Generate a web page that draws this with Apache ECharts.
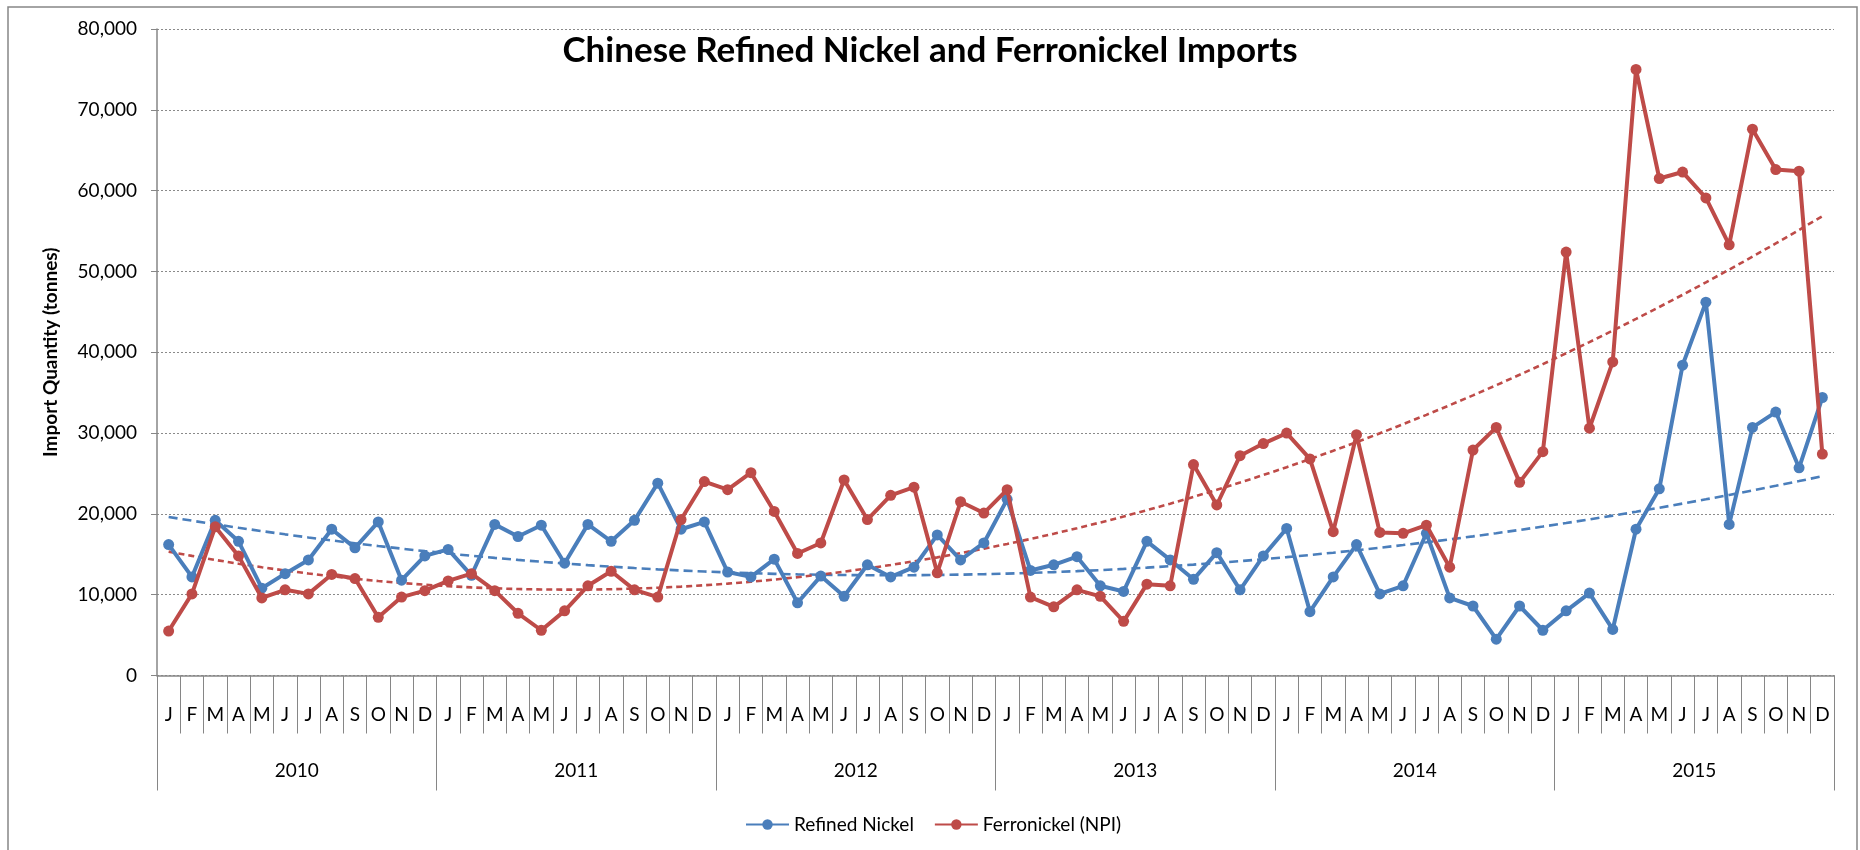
<!DOCTYPE html>
<html>
<head>
<meta charset="utf-8">
<script src="https://cdn.jsdelivr.net/npm/echarts@6/dist/echarts.min.js"></script>
<style>
html,body{margin:0;padding:0;background:#fff;}
#chart{width:1860px;height:850px;}
</style>
</head>
<body>
<div id="chart"></div>
<script>
// ---- data ----
const monthLetters = ['J','F','M','A','M','J','J','A','S','O','N','D'];
const years = ['2010','2011','2012','2013','2014','2015'];
const yTicks = [0, 10000, 20000, 30000, 40000, 50000, 60000, 70000, 80000];

const refinedNickel = [
  16200, 12200, 19200, 16600, 10800, 12600, 14300, 18100, 15800, 19000, 11800, 14800,
  15600, 12400, 18700, 17200, 18600, 13900, 18700, 16600, 19200, 23800, 18100, 19000,
  12800, 12200, 14400, 9000, 12300, 9800, 13700, 12200, 13400, 17400, 14300, 16400,
  21800, 13000, 13700, 14700, 11100, 10400, 16600, 14300, 11900, 15200, 10600, 14800,
  18200, 7900, 12200, 16200, 10100, 11100, 17600, 9600, 8600, 4500, 8600, 5600,
  8000, 10200, 5700, 18100, 23100, 38400, 46200, 18700, 30700, 32600, 25700, 34400
];
const ferronickel = [
  5500, 10100, 18400, 14800, 9600, 10600, 10100, 12500, 12000, 7200, 9700, 10500,
  11700, 12600, 10500, 7700, 5600, 8000, 11100, 12900, 10600, 9700, 19300, 24000,
  23000, 25100, 20300, 15100, 16400, 24200, 19300, 22300, 23300, 12700, 21500, 20100,
  23000, 9700, 8500, 10600, 9800, 6700, 11300, 11100, 26100, 21100, 27200, 28700,
  30000, 26800, 17800, 29800, 17700, 17600, 18600, 13400, 27900, 30700, 23900, 27700,
  52400, 30600, 38800, 75000, 61500, 62300, 59100, 53300, 67600, 62600, 62400, 27400
];

// ---- derived ----
const categories = [];
years.forEach(() => monthLetters.forEach(m => categories.push(m)));

// least-squares polynomial (order 2) trendline, as in the spreadsheet chart
function polyTrend(ys, order) {
  const n = ys.length, m = order + 1;
  const A = [], b = [];
  for (let r = 0; r < m; r++) { A.push(new Array(m).fill(0)); b.push(0); }
  for (let i = 0; i < n; i++) {
    const x = i + 1;
    for (let r = 0; r < m; r++) {
      b[r] += Math.pow(x, r) * ys[i];
      for (let c = 0; c < m; c++) A[r][c] += Math.pow(x, r + c);
    }
  }
  for (let p = 0; p < m; p++) {
    for (let r = p + 1; r < m; r++) {
      const f = A[r][p] / A[p][p];
      for (let c = p; c < m; c++) A[r][c] -= f * A[p][c];
      b[r] -= f * b[p];
    }
  }
  const coef = new Array(m).fill(0);
  for (let r = m - 1; r >= 0; r--) {
    let s = b[r];
    for (let c = r + 1; c < m; c++) s -= A[r][c] * coef[c];
    coef[r] = s / A[r][r];
  }
  return ys.map((_, i) => {
    const x = i + 1; let v = 0;
    for (let r = 0; r < m; r++) v += coef[r] * Math.pow(x, r);
    return Math.round(v);
  });
}
const refinedTrend = polyTrend(refinedNickel, 2);
const ferroTrend = polyTrend(ferronickel, 2);

const BLUE = '#4A7EBB', RED = '#BE4B48', AXIS = '#868686';
const FONT = 'Lato';

const chart = echarts.init(document.getElementById('chart'));
chart.setOption({
  animation: false,
  backgroundColor: '#fff',
  textStyle: { fontFamily: FONT },
  title: {
    text: 'Chinese Refined Nickel and Ferronickel Imports',
    left: 'center', top: 28,
    textStyle: { fontFamily: FONT, fontWeight: 'bold', fontSize: 35, color: '#000' }
  },
  legend: {
    data: ['Refined Nickel', 'Ferronickel (NPI)'],
    left: 740, top: 810,
    itemWidth: 43, itemHeight: 13, itemGap: 20,
    textStyle: { fontFamily: FONT, fontSize: 19, color: '#000' }
  },
  graphic: [{
    type: 'rect', silent: true, z: -1,
    shape: { x: 8, y: 7, width: 1849, height: 860 },
    style: { fill: null, stroke: AXIS, lineWidth: 1.5 }
  }],
  grid: { left: 157, right: 26, top: 29, bottom: 174.5, containLabel: false },
  xAxis: [{
    type: 'category', data: categories, boundaryGap: true, position: 'bottom',
    axisLine: { show: true, lineStyle: { color: AXIS, width: 1.5 } },
    axisTick: { show: true, interval: 0, length: 58, lineStyle: { color: AXIS, width: 1 } },
    axisLabel: { interval: 0, margin: 30, fontFamily: FONT, fontSize: 19, color: '#000' },
    splitLine: { show: false }
  }, {
    type: 'category', data: years, boundaryGap: true, position: 'bottom',
    axisLine: { show: false },
    axisTick: { show: true, interval: 0, length: 115, lineStyle: { color: AXIS, width: 1 } },
    axisLabel: { interval: 0, margin: 86, fontFamily: FONT, fontSize: 19, color: '#000' },
    splitLine: { show: false }
  }],
  yAxis: {
    type: 'value', min: yTicks[0], max: yTicks[yTicks.length - 1], interval: yTicks[1] - yTicks[0],
    name: 'Import Quantity (tonnes)', nameLocation: 'middle', nameRotate: 90, nameGap: 97,
    nameTextStyle: { fontFamily: FONT, fontWeight: 'bold', fontSize: 19, color: '#000' },
    axisLine: { show: true, lineStyle: { color: AXIS, width: 1.5 } },
    axisTick: { show: true, length: 6, lineStyle: { color: AXIS } },
    axisLabel: {
      margin: 20, fontFamily: FONT, fontSize: 19, color: '#000',
      formatter: v => v.toLocaleString('en-US')
    },
    splitLine: { show: true, lineStyle: { color: '#8a8a8a', type: [2, 2], width: 1 } }
  },
  series: [{
    name: 'Refined Nickel trend', type: 'line', data: refinedTrend, z: 1,
    symbol: 'none', silent: true,
    lineStyle: { color: BLUE, width: 2.6, type: [9, 5] }
  }, {
    name: 'Ferronickel trend', type: 'line', data: ferroTrend, z: 1,
    symbol: 'none', silent: true,
    lineStyle: { color: RED, width: 2.6, type: [6, 4] }
  }, {
    name: 'Refined Nickel', type: 'line', data: refinedNickel, z: 3,
    symbol: 'circle', symbolSize: 11, showAllSymbol: true,
    itemStyle: { color: BLUE }, lineStyle: { color: BLUE, width: 4 }
  }, {
    name: 'Ferronickel (NPI)', type: 'line', data: ferronickel, z: 4,
    symbol: 'circle', symbolSize: 11, showAllSymbol: true,
    itemStyle: { color: RED }, lineStyle: { color: RED, width: 4 }
  }]
});
</script>
</body>
</html>
